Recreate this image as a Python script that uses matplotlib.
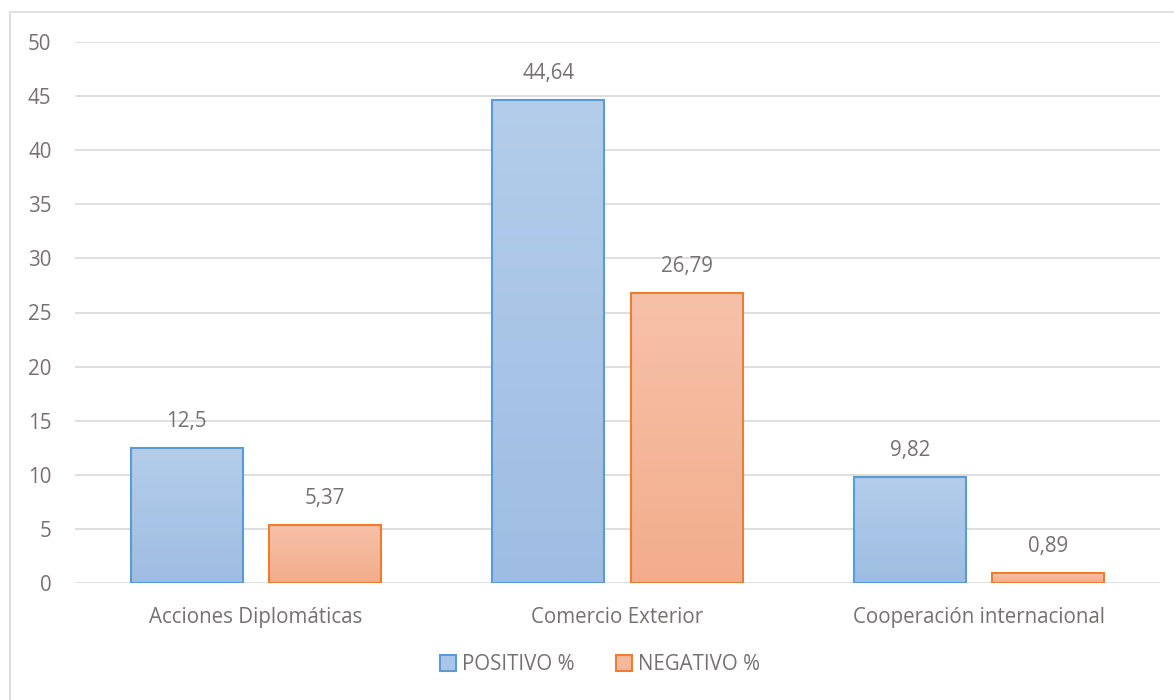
import numpy as np
import matplotlib.pyplot as plt
from matplotlib.patches import Rectangle, Patch

categories = ['Acciones Diplomáticas', 'Comercio Exterior', 'Cooperación internacional']
positivo = [12.5, 44.64, 9.82]
negativo = [5.37, 26.79, 0.89]
pos_labels = ['12,5', '44,64', '9,82']
neg_labels = ['5,37', '26,79', '0,89']
series_names = ['POSITIVO %', 'NEGATIVO %']

plt.rcParams['font.family'] = ['Open Sans', 'DejaVu Sans']
grey = '#767171'
fs = 14.8

fig = plt.figure(figsize=(11.74, 7), dpi=100)
ax = fig.add_axes([75 / 1174, 1 - 583 / 700, 1085 / 1174, 541 / 700])

# outer chart border (cut at right/bottom like the original)
fig.patches.append(Rectangle((10 / 1174, -0.1), 1.2, 1 - 12 / 700 + 0.1,
                             transform=fig.transFigure, fill=False,
                             edgecolor='#d9d9d9', linewidth=1.2))

x = np.arange(len(categories))
w = 0.31
gap = 0.072


def gradient_bars(xs, vals, top_col, bot_col, edge):
    bars = ax.bar(xs, vals, width=w, color='none', edgecolor=edge, linewidth=1.5, zorder=3)
    grad = np.linspace(0, 1, 256).reshape(-1, 1)
    top = np.array(plt.matplotlib.colors.to_rgb(top_col))
    bot = np.array(plt.matplotlib.colors.to_rgb(bot_col))
    img = top[None, None, :] * (1 - grad[:, :, None]) + bot[None, None, :] * grad[:, :, None]
    for b in bars:
        x0, y0 = b.get_x(), b.get_y()
        h = b.get_height()
        im = ax.imshow(img, extent=[x0, x0 + w, y0, y0 + h], aspect='auto',
                       origin='upper', zorder=2)
        im.set_clip_path(b)
    return bars


xp = x - (w + gap) / 2
xn = x + (w + gap) / 2
gradient_bars(xp, positivo, '#b3cdea', '#9fbde3', '#5b9bd5')
gradient_bars(xn, negativo, '#f7c1a8', '#f2ad8c', '#ed7d31')

for xi, v, s in zip(xp, positivo, pos_labels):
    ax.text(xi, v + 1.5, s, ha='center', va='bottom', fontsize=fs, color=grey)
for xi, v, s in zip(xn, negativo, neg_labels):
    ax.text(xi, v + 1.5, s, ha='center', va='bottom', fontsize=fs, color=grey)

ax.set_xlim(-0.5, 2.5)
ax.set_ylim(0, 50)
ax.set_yticks(range(0, 51, 5))
ax.set_xticks(x)
ax.set_xticklabels(categories)
ax.tick_params(axis='both', length=0, labelsize=fs, colors=grey)
ax.tick_params(axis='y', pad=17)
ax.tick_params(axis='x', pad=17)
ax.grid(axis='y', color='#d9d9d9', linewidth=1.2, zorder=0)
ax.set_axisbelow(True)
for sp in ax.spines.values():
    sp.set_visible(False)

handles = [Patch(facecolor='#a9c6e8', edgecolor='#5b9bd5', linewidth=1.5),
           Patch(facecolor='#f5b89a', edgecolor='#ed7d31', linewidth=1.5)]
fig.legend(handles, series_names, loc='center', bbox_to_anchor=(600 / 1174, 1 - 665 / 700),
           ncol=2, frameon=False, fontsize=fs, labelcolor=grey,
           handlelength=0.8, handleheight=0.8, handletextpad=0.3, columnspacing=2.0)

fig.savefig('out.png', dpi=100)
